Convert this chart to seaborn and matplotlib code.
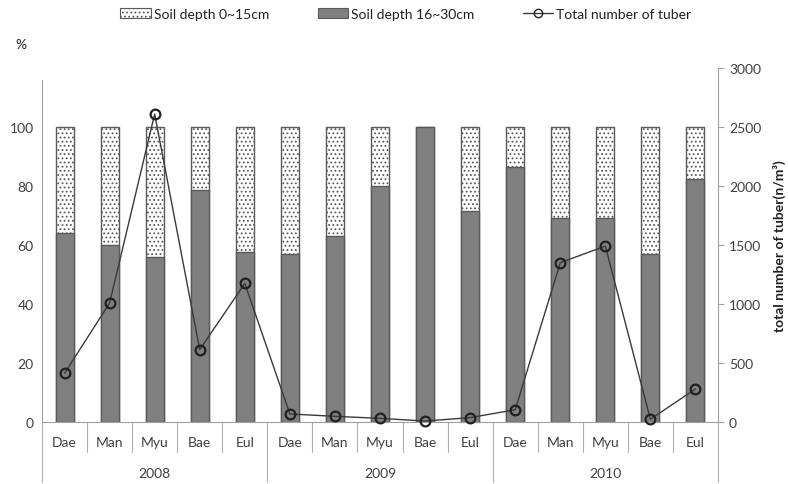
import pandas as pd
import matplotlib
matplotlib.use("Agg")
import matplotlib.pyplot as plt
import matplotlib.transforms as mtransforms
from matplotlib.patches import Patch
from matplotlib.lines import Line2D
import seaborn as sns

# data
years = ["2008", "2009", "2010"]
sites = ["Dae", "Man", "Myu", "Bae", "Eul"]
deep_pct = [64, 60, 56, 78.5, 57.5,
            57, 63, 80, 100, 71.5,
            86.5, 69, 69, 57, 82.5]
tuber_total = [413, 1008, 2610, 613, 1175,
               68, 48, 31, 8, 37,
               104, 1350, 1491, 23, 280]

GRAY = "#808080"
EDGE = "#5a5a5a"
TEXT = "#404040"

sns.set_style("white")
plt.rcParams["font.family"] = ["Lato", "DejaVu Sans"]
plt.rcParams["hatch.color"] = "#9a9a9a"
plt.rcParams["hatch.linewidth"] = 0.8

n = len(deep_pct)
df = pd.DataFrame({
    "idx": list(range(n)),
    "deep": deep_pct,
    "total": [100] * n,
    "tuber": tuber_total,
})

fig = plt.figure(figsize=(7.88, 4.85), dpi=100)
ax = fig.add_axes([0.0533, 0.1278, 0.8577 - 0.0, 0.7299])
ax.set_position([42 / 788, 1 - 423 / 485, (718 - 42) / 788, 354 / 485])

# full bar (shallow part shows on top), then the deep part over it
sns.barplot(data=df, x="idx", y="total", ax=ax, color="white", width=0.4,
            edgecolor=EDGE, linewidth=1.0, hatch="....", saturation=1)
sns.barplot(data=df, x="idx", y="deep", ax=ax, color=GRAY, width=0.4,
            edgecolor=EDGE, linewidth=1.0, saturation=1)

ax.set_ylim(0, 120)
ax.set_xlim(-0.5, n - 0.5)
ax.set_yticks([0, 20, 40, 60, 80, 100])
ax.tick_params(axis="y", length=0, labelsize=10, labelcolor=TEXT, pad=6)
ax.set_xticks([])
ax.set_xlabel("")
ax.set_ylabel("")
for s in ["top", "right"]:
    ax.spines[s].set_visible(False)
ax.spines["left"].set_color("#a0a0a0")
ax.spines["left"].set_bounds(0, 116)
ax.spines["bottom"].set_color("#a0a0a0")

ax2 = ax.twinx()
sns.lineplot(data=df, x="idx", y="tuber", ax=ax2, color="#3a3a3a",
             linewidth=1.0, marker="o", markersize=7,
             markerfacecolor="none", markeredgecolor="#202020",
             markeredgewidth=1.6, clip_on=False)
ax2.set_ylim(0, 3000)
ax2.set_yticks(range(0, 3001, 500))
ax2.tick_params(axis="y", length=4, color="#a0a0a0", labelsize=10,
                labelcolor=TEXT, pad=4)
ax2.set_xlabel("")
ax2.set_ylabel("total number of tuber(n/m³)", fontsize=10,
               fontweight="bold", color="#202020", labelpad=8)
for s in ["top", "left", "bottom"]:
    ax2.spines[s].set_visible(False)
ax2.spines["right"].set_color("#a0a0a0")

# grouped category axis
trans = mtransforms.blended_transform_factory(ax.transData, ax.transAxes)
for i in range(n):
    ax.text(i, -0.057, sites[i % len(sites)], transform=trans, ha="center",
            va="center", fontsize=10, color=TEXT)
for i in range(n + 1):
    is_year = i % len(sites) == 0
    ax.plot([i - 0.5, i - 0.5], [0, -0.169 if is_year else -0.085],
            transform=trans, color="#b0b0b0", lw=0.8, clip_on=False)
for j, yr in enumerate(years):
    ax.text(j * 5 + 2, -0.144, yr, transform=trans, ha="center",
            va="center", fontsize=10, color=TEXT)

fig.text(15 / 788, 1 - 45 / 485, "%", fontsize=10, color="#202020",
         ha="left", va="center")

handles = [
    Patch(facecolor="white", edgecolor=EDGE, hatch="....", linewidth=0.8),
    Patch(facecolor=GRAY, edgecolor=EDGE, linewidth=0.8),
    Line2D([0], [0], color="#3a3a3a", lw=1.0, marker="o", markersize=6,
           markerfacecolor="none", markeredgecolor="#202020"),
]
labels = ["Soil depth 0~15cm", "Soil depth 16~30cm", "Total number of tuber"]
fig.legend(handles, labels, loc="center", bbox_to_anchor=(0.515, 1 - 15 / 485),
           ncol=3, frameon=False, fontsize=10, columnspacing=3.5,
           handlelength=2.2, handletextpad=0.2, labelcolor="#202020")

fig.savefig("out.png", dpi=100)
